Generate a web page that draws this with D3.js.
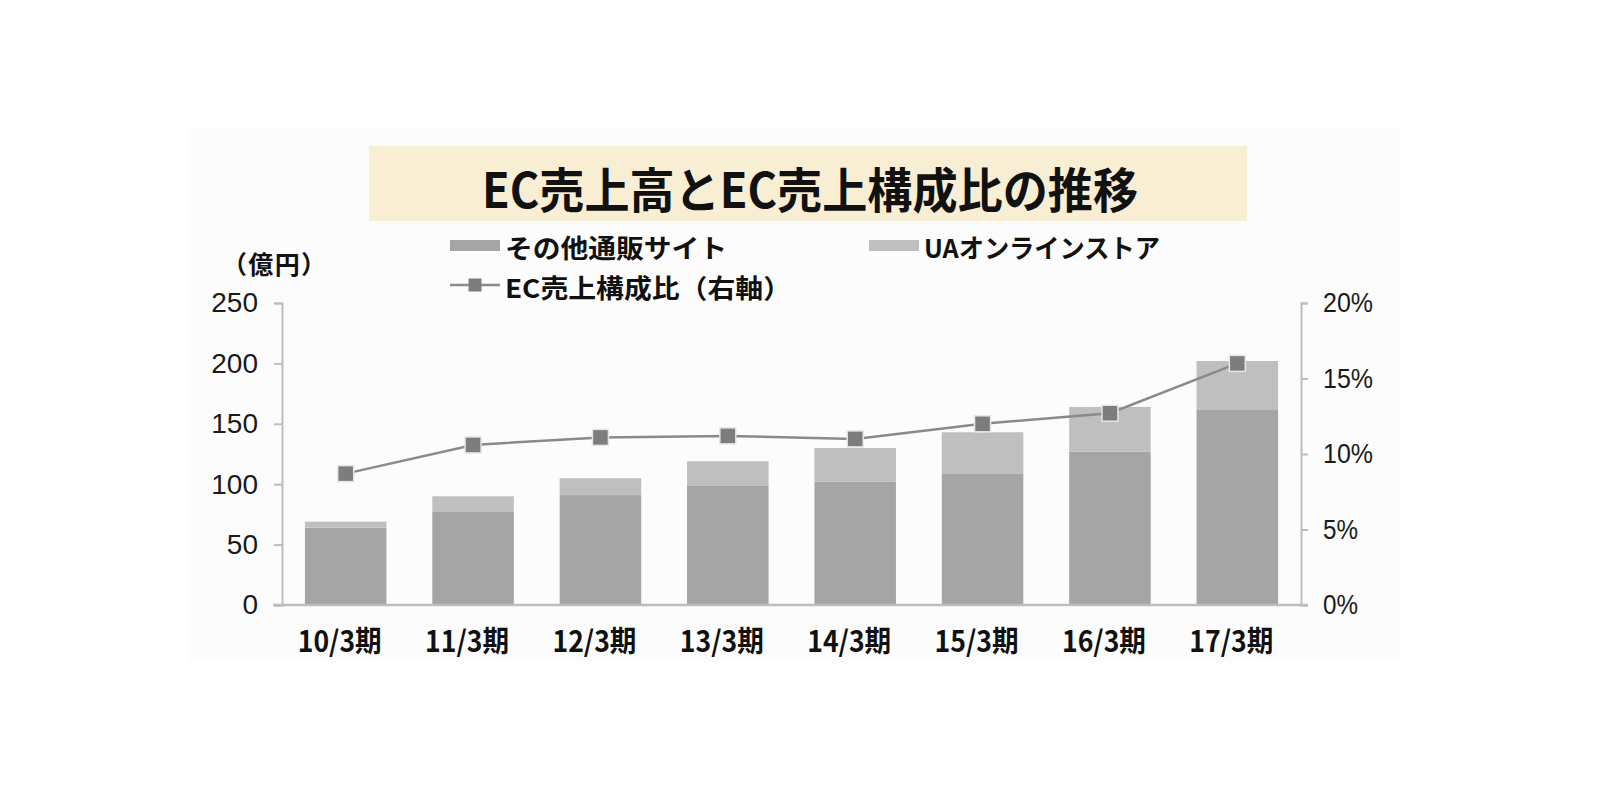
<!DOCTYPE html>
<html>
<head>
<meta charset="utf-8">
<script src="https://cdn.jsdelivr.net/npm/d3@7"></script>
<style>
  html, body { margin: 0; padding: 0; background: #ffffff; }
  svg { display: block; }
</style>
</head>
<body>
<svg id="chart" width="1600" height="800"></svg>
<script>
// ---- data ----
const categories = ["10/3期", "11/3期", "12/3期", "13/3期", "14/3期", "15/3期", "16/3期", "17/3期"];
const otherSales = [64, 77, 91, 99, 102, 109, 127, 162];   // その他通販サイト (億円)
const uaSales    = [5, 13, 14, 20, 28, 34, 37, 40];         // UAオンラインストア (億円)
const ecRatio    = [8.7, 10.6, 11.1, 11.2, 11.0, 12.0, 12.7, 16.0]; // EC売上構成比 (%)
const leftTicks  = [0, 50, 100, 150, 200, 250];
const rightTicks = [0, 5, 10, 15, 20];
const seriesNames = ["その他通販サイト", "UAオンラインストア", "EC売上構成比（右軸）"];
const titleText = "EC売上高とEC売上構成比の推移";
const unitText = "（億円）";

// ---- styling ----
const colOther = "#a5a5a5";
const colUA = "#bfbfbf";
const colLine = "#8a8a8a";
const colMarker = "#7d7d7d";
const colAxis = "#bdbdbd";
const jp = "'Noto Sans CJK JP', 'Noto Sans', sans-serif";
const num = "'Liberation Sans', Arial, sans-serif";

const svg = d3.select("#chart");

// faint panel background
svg.append("rect").attr("x", 188).attr("y", 128).attr("width", 1212).attr("height", 534)
  .attr("fill", "#fcfcfc");

// title box
svg.append("rect").attr("x", 369).attr("y", 146).attr("width", 878).attr("height", 75)
  .attr("fill", "#f8eed4");
svg.append("text").attr("x", 810).attr("y", 187)
  .attr("text-anchor", "middle").attr("dominant-baseline", "central")
  .style("font-family", jp).style("font-weight", 700).style("font-size", "48px")
  .attr("textLength", 656).attr("lengthAdjust", "spacingAndGlyphs")
  .attr("fill", "#111").text(titleText);

// scales
const x = d3.scaleBand().domain(categories).range([282, 1301]).paddingInner(0.36).paddingOuter(0.18);
const y = d3.scaleLinear().domain([0, 250]).range([605, 303]);
const y2 = d3.scaleLinear().domain([0, 20]).range([605, 303]);

// stacked data
const rows = categories.map((c, i) => ({ cat: c, other: otherSales[i], ua: uaSales[i] }));
const stack = d3.stack().keys(["other", "ua"])(rows);
const colors = { other: colOther, ua: colUA };

svg.append("g").selectAll("g").data(stack).join("g")
  .attr("fill", d => colors[d.key])
  .selectAll("rect").data(d => d).join("rect")
  .attr("x", d => x(d.data.cat))
  .attr("width", x.bandwidth())
  .attr("y", d => y(d[1]))
  .attr("height", d => y(d[0]) - y(d[1]));

// left axis
const gL = svg.append("g").attr("transform", "translate(282,0)")
  .call(d3.axisLeft(y).tickValues(leftTicks).tickSize(8).tickPadding(16));
gL.select(".domain").attr("stroke", colAxis).attr("stroke-width", 2);
gL.selectAll(".tick line").attr("stroke", colAxis).attr("stroke-width", 2);
gL.selectAll(".tick text").style("font-family", num).style("font-size", "28px").attr("fill", "#1a1a1a");

// right axis
const gR = svg.append("g").attr("transform", "translate(1301,0)")
  .call(d3.axisRight(y2).tickValues(rightTicks).tickSize(7).tickPadding(15).tickFormat(d => d + "%"));
gR.select(".domain").attr("stroke", colAxis).attr("stroke-width", 2);
gR.selectAll(".tick line").attr("stroke", colAxis).attr("stroke-width", 2);
gR.selectAll(".tick text").style("font-family", num).style("font-size", "27px").attr("fill", "#1a1a1a")
  .attr("textLength", function(d) { return d < 10 ? 35 : 50; }).attr("lengthAdjust", "spacingAndGlyphs");

// bottom axis
const gB = svg.append("g").attr("transform", "translate(0,605)")
  .call(d3.axisBottom(x).tickSize(0).tickPadding(26));
gB.select(".domain").remove();
gB.selectAll(".tick text").style("font-family", jp).style("font-weight", 700).style("font-size", "29px")
  .attr("fill", "#111").attr("dx", -6).attr("textLength", 84).attr("lengthAdjust", "spacingAndGlyphs");
svg.append("line").attr("x1", 273).attr("x2", 1308).attr("y1", 605).attr("y2", 605)
  .attr("stroke", colAxis).attr("stroke-width", 2.5);

// line series
const lineGen = d3.line().x((d, i) => x(categories[i]) + x.bandwidth() / 2).y(d => y2(d));
svg.append("path").datum(ecRatio).attr("d", lineGen)
  .attr("fill", "none").attr("stroke", colLine).attr("stroke-width", 2.5);
svg.append("g").selectAll("rect").data(ecRatio).join("rect")
  .attr("x", (d, i) => x(categories[i]) + x.bandwidth() / 2 - 8)
  .attr("y", d => y2(d) - 8)
  .attr("width", 16).attr("height", 16)
  .attr("fill", colMarker).attr("stroke", "#e6e6e6").attr("stroke-width", 1.5);

// unit label
svg.append("text").attr("x", 222).attr("y", 263).attr("dominant-baseline", "central")
  .style("font-family", jp).style("font-weight", 700).style("font-size", "25px")
  .attr("textLength", 104).attr("lengthAdjust", "spacing")
  .attr("fill", "#111").text(unitText);

// legend
const leg = svg.append("g");
leg.append("rect").attr("x", 450).attr("y", 240).attr("width", 50).attr("height", 11).attr("fill", colOther);
leg.append("text").attr("x", 505).attr("y", 246).attr("dominant-baseline", "central")
  .style("font-family", jp).style("font-weight", 700).style("font-size", "26px").attr("fill", "#111")
  .attr("textLength", 222).attr("lengthAdjust", "spacingAndGlyphs")
  .text(seriesNames[0]);
leg.append("rect").attr("x", 869).attr("y", 240).attr("width", 50).attr("height", 11).attr("fill", colUA);
leg.append("text").attr("x", 924).attr("y", 246).attr("dominant-baseline", "central")
  .style("font-family", jp).style("font-weight", 700).style("font-size", "26px").attr("fill", "#111")
  .attr("textLength", 236).attr("lengthAdjust", "spacingAndGlyphs")
  .text(seriesNames[1]);
leg.append("line").attr("x1", 450).attr("x2", 500).attr("y1", 285).attr("y2", 285)
  .attr("stroke", colLine).attr("stroke-width", 2.5);
leg.append("rect").attr("x", 468.5).attr("y", 278.5).attr("width", 13).attr("height", 13).attr("fill", colMarker);
leg.append("text").attr("x", 505).attr("y", 286).attr("dominant-baseline", "central")
  .style("font-family", jp).style("font-weight", 700).style("font-size", "26px").attr("fill", "#111")
  .attr("textLength", 286).attr("lengthAdjust", "spacingAndGlyphs")
  .text(seriesNames[2]);
</script>
</body>
</html>
